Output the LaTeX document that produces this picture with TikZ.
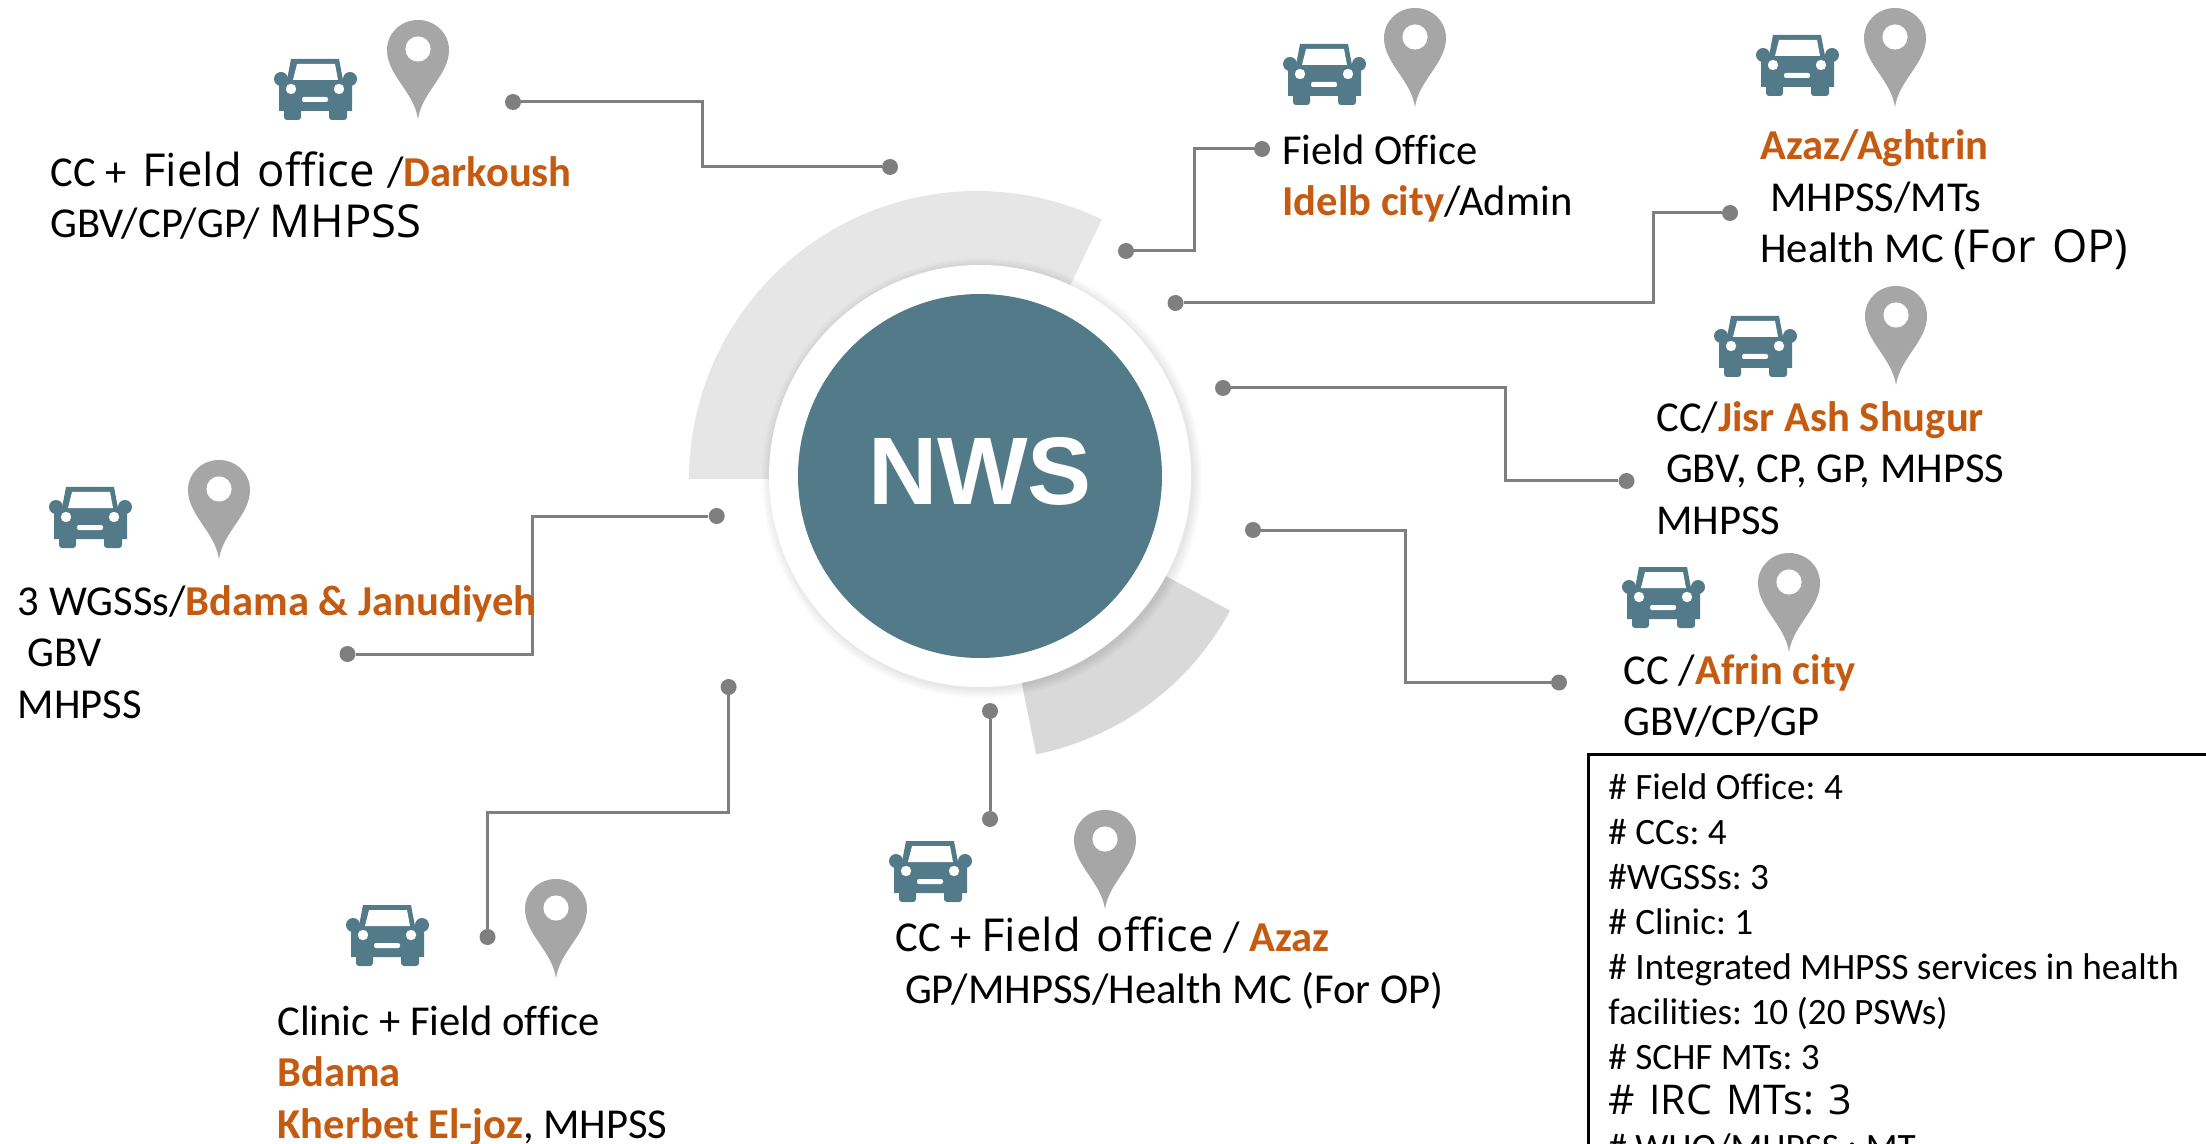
\documentclass[tikz,border=0pt]{standalone}
\usepackage{fontspec}
\setmainfont{Carlito}[Ligatures=NoCommon]
\newfontfamily\widef{Open Sans}[WordSpace=1.35]
\newfontfamily\headf{Liberation Sans}
\definecolor{mainteal}{HTML}{527A89}
\definecolor{pingray}{HTML}{A6A6A6}
\definecolor{linegray}{HTML}{7F7F7F}
\definecolor{ringa}{HTML}{E7E6E6}
\definecolor{ringb}{HTML}{D9D9D9}
\definecolor{placecol}{HTML}{C55A11}
\newcommand{\plc}[1]{{\bfseries\color{placecol}#1}}
\newcommand{\wideword}[1]{{\widef\fontsize{22.7}{25.7}\selectfont #1}}
\tikzset{
  x=0.5pt,y=-0.5pt,
  dot/.style={circle,fill=linegray,inner sep=0pt,minimum size=8pt},
  link/.style={draw=linegray,line width=1.5pt},
  lbl/.style={anchor=base west,inner sep=0pt,align=left,font=\fontsize{21.3}{25.7}\selectfont\frenchspacing},
  stats/.style={anchor=base west,inner sep=0pt,align=left,font=\fontsize{18.6}{22.5}\selectfont\frenchspacing},
  carshape/.pic={
    \fill[mainteal,rounded corners=1.5pt] (10,48) rectangle (27,61);
    \fill[mainteal,rounded corners=1.5pt] (55,48) rectangle (73,61);
    \fill[mainteal] (5,52) -- (5,21) -- (13,21) -- (17,0) -- (65,0) -- (69,21) -- (78,21) -- (78,52) -- cycle;
    \fill[mainteal] (7,20) circle[radius=3.5pt];
    \fill[mainteal] (76,20) circle[radius=3.5pt];
    \fill[white] (23,5) -- (61,5) -- (64,21) -- (19,21) -- cycle;
    \fill[white] (17,30) circle[radius=2.6pt];
    \fill[white] (65,30) circle[radius=2.6pt];
    \fill[white,rounded corners=1pt] (28,38) rectangle (54,43);
  },
  pinshape/.pic={
    \fill[pingray] (31,99) .. controls (27,72) and (0,55) .. (0,30) .. controls (0,13) and (14,0) .. (31,0) .. controls (48,0) and (62,13) .. (62,30) .. controls (62,55) and (35,72) .. (31,99) -- cycle;
    \fill[white] (31,29) circle[radius=6.3pt];
  },
}
\begin{document}
\begin{tikzpicture}
\clip (0,0) rectangle (2206,1144);
\fill[white] (0,0) rectangle (2206,1144);
% rings
\fill[ringa] plot[domain=180:64.3,samples=80] ({977+288*cos(\x)},{479-288*sin(\x)}) -- (977,479) -- cycle;
\fill[ringb] plot[domain=-28.3:-78.6,samples=50] ({980+284*cos(\x)},{476-284*sin(\x)}) -- (980,476) -- cycle;
% soft shadow of the white disc
\foreach \r in {106,106.8,107.6,108.4,109.2,110}{
  \fill[black,opacity=0.016] (982,478) circle[radius=\r pt];
}
\node[circle,fill=white,inner sep=0pt,minimum size=211pt] (halo) at (980,476) {};
\node[circle,fill=mainteal,inner sep=0pt,minimum size=182pt] (hub) at (980,476) {};
\node[inner sep=0pt,text=white,font=\headf\bfseries\fontsize{48}{48}\selectfont] (hublabel) at (980,471) {NWS};
% dots
\node[dot] (a1) at (513,102) {}; \node[dot] (a2) at (890,167) {};
\node[dot] (b1) at (1126,251) {}; \node[dot] (b2) at (1262,149) {};
\node[dot] (c1) at (1175.5,303) {}; \node[dot] (c2) at (1730,213) {};
\node[dot] (d1) at (1223,388) {}; \node[dot] (d2) at (1626.5,481) {};
\node[dot] (e1) at (1253,530) {}; \node[dot] (e2) at (1559,682.5) {};
\node[dot] (f1) at (990,711) {}; \node[dot] (f2) at (990,819) {};
\node[dot] (g1) at (728.6,687) {}; \node[dot] (g2) at (487.5,937) {};
\node[dot] (h1) at (716.7,516) {}; \node[dot] (h2) at (347.5,654) {};
% connectors
\coordinate (ac) at (702,102); \coordinate (acb) at (702,167);
\draw[link] (a1) -- (ac) -- (acb) -- (a2);
\coordinate (bc) at (1194,251); \coordinate (bcb) at (1194,149);
\draw[link] (b1) -- (bc) -- (bcb) -- (b2);
\coordinate (cc) at (1653,303); \coordinate (ccb) at (1653,213);
\draw[link] (c1) -- (cc) -- (ccb) -- (c2);
\coordinate (dc) at (1505.6,388); \coordinate (dcb) at (1505.6,481);
\draw[link] (d1) -- (dc) -- (dcb) -- (d2);
\coordinate (ec) at (1405.6,530); \coordinate (ecb) at (1405.6,682.5);
\draw[link] (e1) -- (ec) -- (ecb) -- (e2);
\draw[link] (f1) -- (f2);
\coordinate (gc) at (728.6,812); \coordinate (gcb) at (487.5,812);
\draw[link] (g1) -- (gc) -- (gcb) -- (g2);
\coordinate (hc) at (532.5,516); \coordinate (hcb) at (532.5,654);
\draw[link] (h1) -- (hc) -- (hcb) -- (h2);
% icons
\pic at (274,59) {carshape};   \pic at (387,20) {pinshape};
\pic at (1283,44) {carshape};  \pic at (1384,8) {pinshape};
\pic at (1756,35) {carshape};  \pic at (1864,8) {pinshape};
\pic at (1714,316) {carshape}; \pic at (1865,286) {pinshape};
\pic at (1622,567) {carshape}; \pic at (1758,553) {pinshape};
\pic at (49,487) {carshape};   \pic at (188,460) {pinshape};
\pic at (346,905) {carshape};  \pic at (525,879) {pinshape};
\pic at (889,841) {carshape};  \pic at (1074,810) {pinshape};
% labels
\node[lbl] (t1) at (50,238) {CC +\hspace{3pt} \wideword{Field office} \hspace{1.5pt}/\plc{Darkoush}\\GBV/CP/GP/ \wideword{MHPSS}};
\node[lbl] (t2) at (1282,216) {Field Office\\\plc{Idelb city}/Admin};
\node[lbl] (t3) at (1760,262.5) {\plc{Azaz/Aghtrin}\\\ MHPSS/MTs\\Health MC \wideword{(For OP)}};
\node[lbl] (t4) at (1656,534) {CC/\plc{Jisr Ash Shugur}\\\ GBV, CP, GP, MHPSS\\MHPSS};
\node[lbl] (t5) at (1623.5,735.5) {CC /\plc{Afrin city}\\GBV/CP/GP};
\node[lbl] (t6) at (17.5,718) {3 WGSSs/\plc{Bdama \& Janudiyeh}\\\ GBV\\MHPSS};
\node[lbl] (t7) at (277,1138) {Clinic + Field office\\\plc{Bdama}\\\plc{Kherbet El-joz}, MHPSS};
\node[lbl] (t8) at (895,1003) {CC + \wideword{Field office} / \plc{Azaz}\\\ GP/MHPSS/Health MC (For OP)};
% stats box
\draw[black,line width=1.5pt] (1588,754) rectangle (2240,1180);
\node[stats] (s) at (1608,1159) {\# Field Office: 4\\\# CCs: 4\\\#WGSSs: 3\\\# Clinic: 1\\\# Integrated MHPSS services in health\\facilities: 10 (20 PSWs)\\\# SCHF MTs: 3\\{\widef\fontsize{20.5}{22.5}\selectfont \# IRC MTs: 3}\\\# WHO/MHPSS : MT};
\end{tikzpicture}
\end{document}
